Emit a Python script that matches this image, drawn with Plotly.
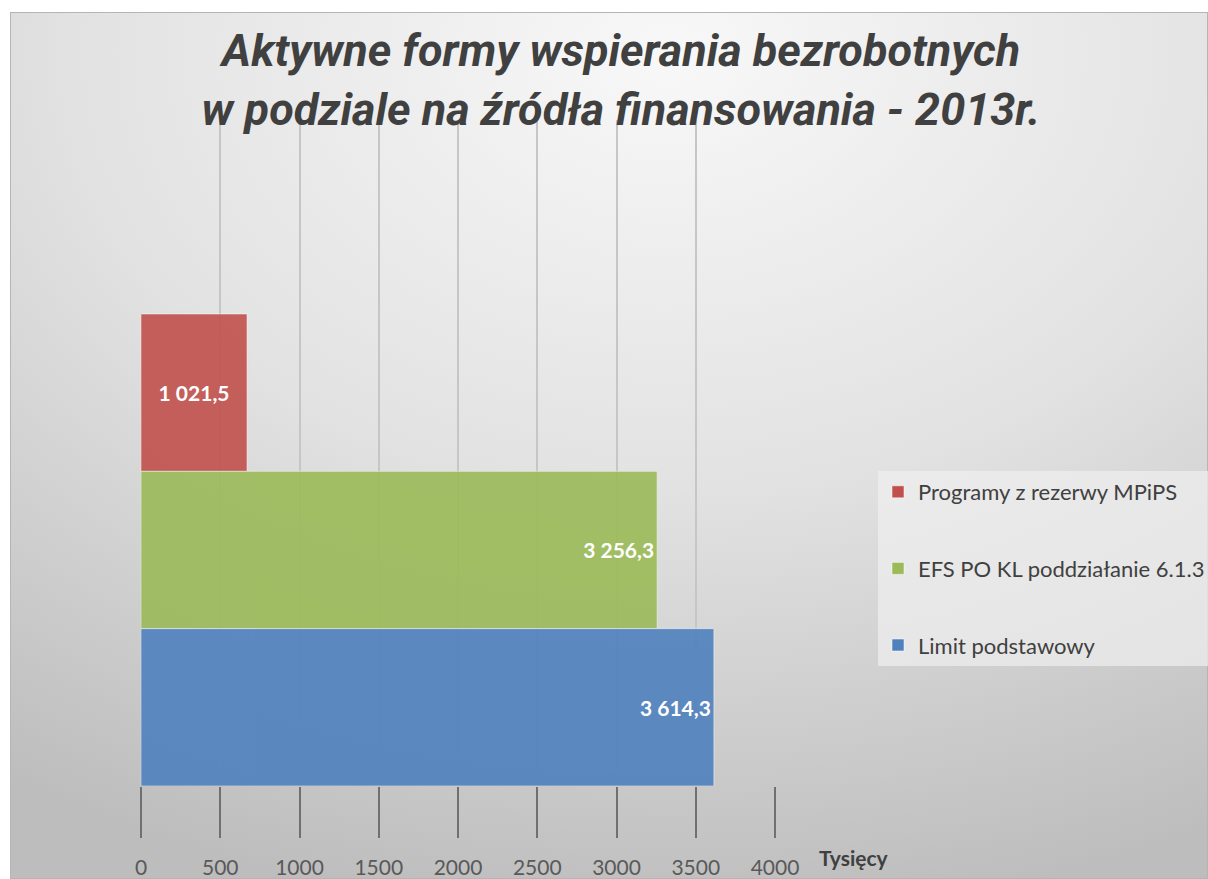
import base64
import plotly.graph_objects as go

# ---- data ----
series_names = ["Programy z rezerwy MPiPS", "EFS PO KL poddziałanie 6.1.3", "Limit podstawowy"]
bar_values = [669, 3256.3, 3614.3]          # bar lengths as drawn (Tysięcy)
label_texts = ["1 021,5", "3 256,3", "3 614,3"]
categories = ["Limit podstawowy", "EFS PO KL poddziałanie 6.1.3", "Programy z rezerwy MPiPS"]  # bottom -> top
colors = ["#c0504d", "#9bbb59", "#4f81bd"]
text_anchor = ["middle", "end", "end"]
x_ticks = [0, 500, 1000, 1500, 2000, 2500, 3000, 3500, 4000]
x_tick_labels = [str(v) for v in x_ticks]

W, H = 1208, 879

# background gradient (svg)
svg = (
    '<svg xmlns="http://www.w3.org/2000/svg" width="1198" height="867" viewBox="0 0 1198 867" '
    'preserveAspectRatio="none"><defs><radialGradient id="g" cx="0.55" cy="0.05" r="1.0" '
    'gradientUnits="objectBoundingBox"><stop offset="0" stop-color="#f8f8f8"/>'
    '<stop offset="0.5" stop-color="#e2e2e2"/><stop offset="1" stop-color="#bdbdbd"/>'
    '</radialGradient></defs><rect x="0.5" y="0.5" width="1197" height="866" fill="url(#g)" '
    'stroke="#b5b5b5" stroke-width="1"/></svg>'
)
svg_src = "data:image/svg+xml;base64," + base64.b64encode(svg.encode()).decode()

fig = go.Figure()
for i, name in enumerate(series_names):
    fig.add_trace(go.Bar(
        y=[name], x=[bar_values[i]], orientation="h", width=1,
        name=name, legendgroup=name,
        marker=dict(color=colors[i], opacity=0.9, line=dict(color="rgba(255,255,255,0.5)", width=1)),
        text=[label_texts[i]], textposition="inside", insidetextanchor=text_anchor[i],
        textfont=dict(family="Lato", size=21, color="white", weight="bold"),
        hoverinfo="skip",
    ))

fig.update_layout(
    width=W, height=H,
    margin=dict(l=0, r=0, t=0, b=0, autoexpand=False),
    paper_bgcolor="white",
    plot_bgcolor="rgba(0,0,0,0)",
    barmode="overlay",
    images=[dict(source=svg_src, xref="paper", yref="paper", x=10 / W, y=1 - 12 / H,
                 sizex=1198 / W, sizey=867 / H, xanchor="left", yanchor="top",
                 sizing="stretch", layer="below")],
    title=dict(
        text="Aktywne formy wspierania bezrobotnych<br>w podziale na źródła finansowania - 2013r.",
        x=621 / W, xanchor="center", y=1 - 66 / H, yanchor="middle", yref="paper", xref="paper",
        font=dict(family="Roboto", size=45, color="#404040", weight="bold", style="italic"),
    ),
    xaxis=dict(
        domain=[140.68 / W, 775.32 / W], range=[-2, 4002],
        tickvals=x_ticks, ticktext=x_tick_labels,
        showgrid=True, gridcolor="#c6c6c6", gridwidth=1.5,
        zeroline=False, showline=False, automargin=False,
        ticks="outside", ticklen=51, tickwidth=1.5, tickcolor="#707070",
        ticklabelstandoff=12,
        tickfont=dict(family="Lato", size=21, color="#595959"),
    ),
    yaxis=dict(
        domain=[1 - 786 / H, 1 - 120 / H], range=[-0.5, 3.733],
        type="category", categoryorder="array", categoryarray=categories,
        showticklabels=False, showgrid=False, zeroline=False, showline=False, ticks="",
        automargin=False,
    ),
    legend=dict(
        x=878 / W, y=1 - 471 / H, xanchor="left", yanchor="top",
        bgcolor="rgba(240,240,240,0.7)", borderwidth=0,
        traceorder="grouped", tracegroupgap=45,
        font=dict(family="Lato", size=22, color="#404040"),
    ),
    annotations=[dict(
        text="Tysięcy", x=854 / W, y=1 - 857 / H, xref="paper", yref="paper",
        showarrow=False, xanchor="center", yanchor="middle",
        font=dict(family="Lato", size=21, color="#404040", weight="bold"),
    )],
)

fig.write_html(
    "out.html",
    config={"displayModeBar": False},
    post_script="document.body.style.margin='0';document.body.style.overflow='hidden';",
)
